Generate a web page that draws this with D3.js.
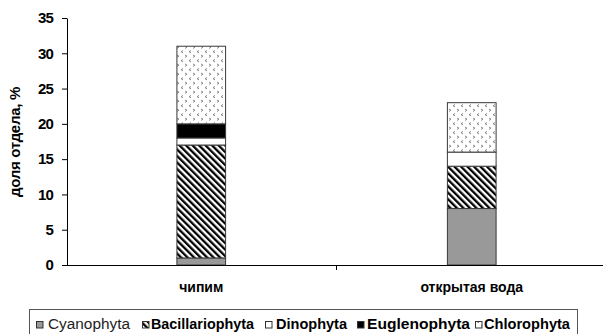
<!DOCTYPE html>
<html>
<head>
<meta charset="utf-8">
<script src="https://cdn.jsdelivr.net/npm/d3@7"></script>
<style>
  html, body { margin: 0; padding: 0; background: #fff; }
  svg { display: block; font-family: "Liberation Sans", Arial, sans-serif; }
</style>
</head>
<body>
<svg id="chart" width="603" height="334"></svg>
<script>
// Share of algal divisions (%) by habitat
const categories = ["чипим", "открытая вода"];
const seriesNames = ["Cyanophyta", "Bacillariophyta", "Dinophyta", "Euglenophyta", "Chlorophyta"];
const cyanophyta = [1, 8];
const bacillariophyta = [16, 6];
const dinophyta = [1, 2];
const euglenophyta = [2, 0];
const chlorophyta = [11, 7];
const yTickValues = [0, 5, 10, 15, 20, 25, 30, 35];
const yTitle = "доля отдела, %";

const seriesValues = [cyanophyta, bacillariophyta, dinophyta, euglenophyta, chlorophyta];
const rows = categories.map((c, i) => {
  const r = { category: c };
  seriesNames.forEach((s, k) => { r[s] = seriesValues[k][i]; });
  return r;
});

const svg = d3.select("#chart");
const defs = svg.append("defs");

// diagonal hatch (top-left to bottom-right)
const hatch = defs.append("pattern")
  .attr("id", "hatch").attr("patternUnits", "userSpaceOnUse")
  .attr("width", 4.6).attr("height", 4.6)
  .attr("patternTransform", "rotate(-45)");
hatch.append("rect").attr("width", 4.6).attr("height", 4.6).attr("fill", "#fff");
hatch.append("rect").attr("width", 2.3).attr("height", 4.6).attr("fill", "#000");

// small grey chevrons on white
const chev = defs.append("pattern")
  .attr("id", "chev").attr("patternUnits", "userSpaceOnUse")
  .attr("width", 8).attr("height", 9);
chev.append("rect").attr("width", 8).attr("height", 9).attr("fill", "#fff");
chev.append("path").attr("d", "M1,1 L3,2.2 L1,3.4")
  .attr("fill", "none").attr("stroke", "#8a8a8a").attr("stroke-width", 1);
chev.append("path").attr("d", "M7,5.5 L5,6.7 L7,7.9")
  .attr("fill", "none").attr("stroke", "#8a8a8a").attr("stroke-width", 1);

const fills = {
  Cyanophyta: "#999999",
  Bacillariophyta: "url(#hatch)",
  Dinophyta: "#ffffff",
  Euglenophyta: "#000000",
  Chlorophyta: "url(#chev)"
};

const x = d3.scaleBand().domain(categories).range([66, 607]).padding(0);
const y = d3.scaleLinear().domain([0, 35]).range([265, 18]);
const barW = x.bandwidth() * 0.18;

const stacked = d3.stack().keys(seriesNames)(rows);

const gBars = svg.append("g");
stacked.forEach(layer => {
  gBars.selectAll(null)
    .data(layer.filter(d => d[1] - d[0] > 0))
    .join("rect")
    .attr("x", d => x(d.data.category) + x.bandwidth() / 2 - barW / 2)
    .attr("y", d => y(d[1]))
    .attr("width", barW)
    .attr("height", d => y(d[0]) - y(d[1]))
    .attr("fill", fills[layer.key])
    .attr("stroke", "#3a3a3a")
    .attr("stroke-width", 1);
});

// y axis
const yAxis = svg.append("g")
  .attr("transform", "translate(67,0)")
  .call(d3.axisLeft(y).tickValues(yTickValues).tickSize(5).tickPadding(9).tickSizeOuter(0));
yAxis.select(".domain").attr("stroke", "#000");
yAxis.selectAll(".tick line").attr("stroke", "#000");
yAxis.selectAll(".tick text")
  .attr("font-family", "Liberation Sans, Arial, sans-serif")
  .attr("font-size", 15).attr("font-weight", "bold").attr("fill", "#000")
  .attr("letter-spacing", -0.8);

// x axis
const xAxis = svg.append("g")
  .attr("transform", "translate(0,265)")
  .call(d3.axisBottom(x).tickSize(0).tickPadding(17).tickSizeOuter(0));
xAxis.select(".domain").attr("stroke", "#000");
xAxis.selectAll(".tick text")
  .attr("font-family", "Liberation Sans, Arial, sans-serif")
  .attr("font-size", 14).attr("font-weight", "bold").attr("fill", "#000")
  .attr("letter-spacing", 0);
// boundary ticks between categories
svg.append("g").selectAll("line")
  .data(categories.slice(1))
  .join("line")
  .attr("x1", d => x(d)).attr("x2", d => x(d))
  .attr("y1", 265).attr("y2", 270)
  .attr("stroke", "#000");

// y axis title
svg.append("text")
  .attr("transform", "translate(20,142) rotate(-90)")
  .attr("text-anchor", "middle")
  .attr("font-size", 15).attr("font-weight", "bold").attr("fill", "#000")
  .attr("letter-spacing", -0.3)
  .text(yTitle);

// legend
const legend = svg.append("g");
legend.append("rect")
  .attr("x", 29.5).attr("y", 309.5).attr("width", 548).attr("height", 30)
  .attr("fill", "#fff").attr("stroke", "#555");
const legendLayout = [
  { sx: 36, tx: 48, w: 82, bold: false },
  { sx: 142, tx: 151, w: 103, bold: true },
  { sx: 265, tx: 276, w: 71, bold: true },
  { sx: 357, tx: 367, w: 103, bold: true },
  { sx: 475, tx: 484, w: 86, bold: true }
];
seriesNames.forEach((name, i) => {
  const L = legendLayout[i];
  legend.append("rect")
    .attr("x", L.sx + 0.5).attr("y", 321.5).attr("width", 6.5).attr("height", 6.5)
    .attr("fill", fills[name]).attr("stroke", "#333").attr("stroke-width", 1);
  legend.append("text")
    .attr("x", L.tx).attr("y", 329)
    .attr("font-size", 14)
    .attr("font-weight", L.bold ? "bold" : "normal")
    .attr("fill", L.bold ? "#000" : "#222")
    .attr("textLength", L.w).attr("lengthAdjust", "spacingAndGlyphs")
    .text(name);
});
</script>
</body>
</html>
